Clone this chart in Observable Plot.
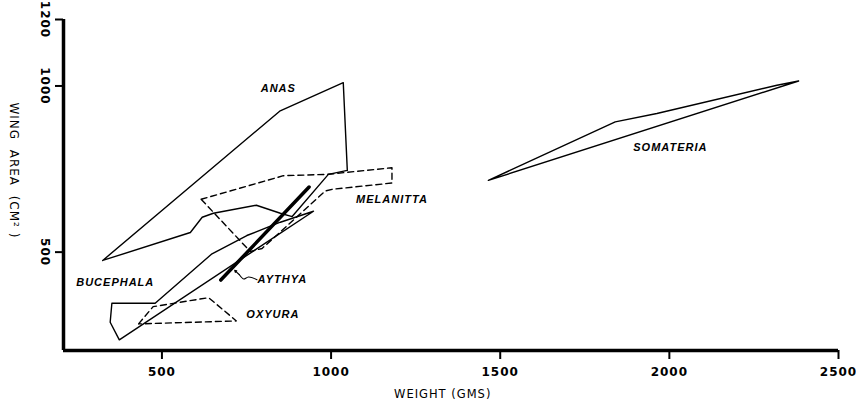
<!DOCTYPE html>
<html>
<head>
<meta charset="utf-8">
<script src="https://cdn.jsdelivr.net/npm/d3@7"></script>
<script src="https://cdn.jsdelivr.net/npm/@observablehq/plot@0.6"></script>
<style>
  body { margin: 0; background: #fff; }
  #chart svg { display: block; }
</style>
</head>
<body>
<div id="chart"></div>
<script>
// ---- axis settings ----
const xTicks = [500, 1000, 1500, 2000, 2500];
const yTicks = [500, 1000, 1200];
const xTitle = "WEIGHT (GMS)";
const yTitle = "WING  AREA  (CM² )";

// ---- genus outlines (weight g, wing area cm²) ----
const anasW = [325, 848, 1036, 1048, 992, 885, 850, 779, 652, 619, 584, 325];
const anasA = [475, 924, 1010, 746, 734, 607, 617, 641, 617, 605, 559, 475];

const bucephalaW = [352, 480, 648, 751, 850, 948, 374, 347, 352];
const bucephalaA = [346, 346, 495, 550, 590, 623, 236, 289, 346];

const somateriaW = [1465, 1840, 1963, 2318, 2382, 1465];
const somateriaA = [716, 892, 917, 1002, 1015, 716];

const melanittaW = [616, 859, 989, 1180, 1180, 1003, 983, 796, 761, 616];
const melanittaA = [659, 730, 734, 754, 708, 689, 684, 511, 502, 659];

const oxyuraW = [431, 474, 638, 720, 431];
const oxyuraA = [284, 336, 363, 293, 284];

const aythyaW = [674, 935];
const aythyaA = [416, 696];

// ---- labels ----
const labelText = ["ANAS", "MELANITTA", "SOMATERIA", "BUCEPHALA", "AYTHYA", "OXYURA"];
const labelW = [844, 1180, 2003, 362, 856, 828];
const labelA = [992, 657, 814, 409, 418, 311];

// squiggly pointer to Aythya
const pointerW = [781, 756, 742, 729];
const pointerA = [417, 425, 419, 432];
const pointerTipW = [729, 715];
const pointerTipA = [432, 445];

function outline(name, W, A) {
  return W.map((w, i) => ({ g: name, w, a: A[i] }));
}

const solid = [
  ...outline("Anas", anasW, anasA),
  ...outline("Bucephala", bucephalaW, bucephalaA),
  ...outline("Somateria", somateriaW, somateriaA)
];
const dashed = [
  ...outline("Melanitta", melanittaW, melanittaA),
  ...outline("Oxyura", oxyuraW, oxyuraA)
];
const thick = outline("Aythya", aythyaW, aythyaA);
const labels = labelText.map((t, i) => ({ t, w: labelW[i], a: labelA[i] }));
const pointer = outline("ptr", pointerW, pointerA);
const tip = [{ x1: pointerTipW[0], y1: pointerTipA[0], x2: pointerTipW[1], y2: pointerTipA[1] }];

const axisFont = "DejaVu Sans, sans-serif";
const labelFont = "Liberation Sans, Arial, sans-serif";

const chart = Plot.plot({
  width: 856,
  height: 410,
  marginLeft: 63,
  marginRight: 18,
  marginTop: 19,
  marginBottom: 60,
  style: { background: "#fff", color: "#000", fontFamily: axisFont, letterSpacing: "1px" },
  x: { domain: [209, 2500] },
  y: { domain: [204, 1200] },
  marks: [
    // x axis ticks + labels
    Plot.axisX({
      ticks: xTicks, tickSize: 9, tickPadding: 8, tickFormat: d => String(d),
      label: null, fontSize: 12, fontWeight: "bold", strokeWidth: 2
    }),
    // y axis ticks
    Plot.axisY({ ticks: yTicks, tickSize: 8, tickFormat: () => "", label: null, strokeWidth: 2 }),
    // y tick labels (rotated)
    Plot.text(yTicks, {
      y: d => d, frameAnchor: "left", dx: -19, rotate: 90, textAnchor: "middle",
      text: d => String(d), fontSize: 12, fontWeight: "bold"
    }),
    // axis lines
    Plot.ruleY([204], { strokeWidth: 3.5 }),
    Plot.ruleX([209], { strokeWidth: 3.5 }),
    // axis titles
    Plot.text([xTitle], {
      x: [1330], frameAnchor: "bottom", dy: 47, text: d => d, fontSize: 11.5, textAnchor: "middle"
    }),
    Plot.text([yTitle], {
      y: [746], frameAnchor: "left", dx: -50, rotate: 90, textAnchor: "middle",
      text: d => d, fontSize: 12
    }),
    // outlines
    Plot.line(solid, { x: "w", y: "a", z: "g", stroke: "#000", strokeWidth: 1.4 }),
    Plot.line(dashed, { x: "w", y: "a", z: "g", stroke: "#000", strokeWidth: 1.4, strokeDasharray: "6,4" }),
    Plot.line(thick, { x: "w", y: "a", stroke: "#000", strokeWidth: 3.5 }),
    // pointer
    Plot.line(pointer, { x: "w", y: "a", curve: "natural", stroke: "#000", strokeWidth: 1.1 }),
    Plot.arrow(tip, { x1: "x1", y1: "y1", x2: "x2", y2: "y2", stroke: "#000", strokeWidth: 1.1, headLength: 6 }),
    // genus labels
    Plot.text(labels, {
      x: "w", y: "a", text: "t", fontFamily: labelFont, fontSize: 11,
      fontStyle: "italic", fontWeight: "bold", fill: "#000"
    })
  ]
});

document.getElementById("chart").appendChild(chart);
</script>
</body>
</html>
